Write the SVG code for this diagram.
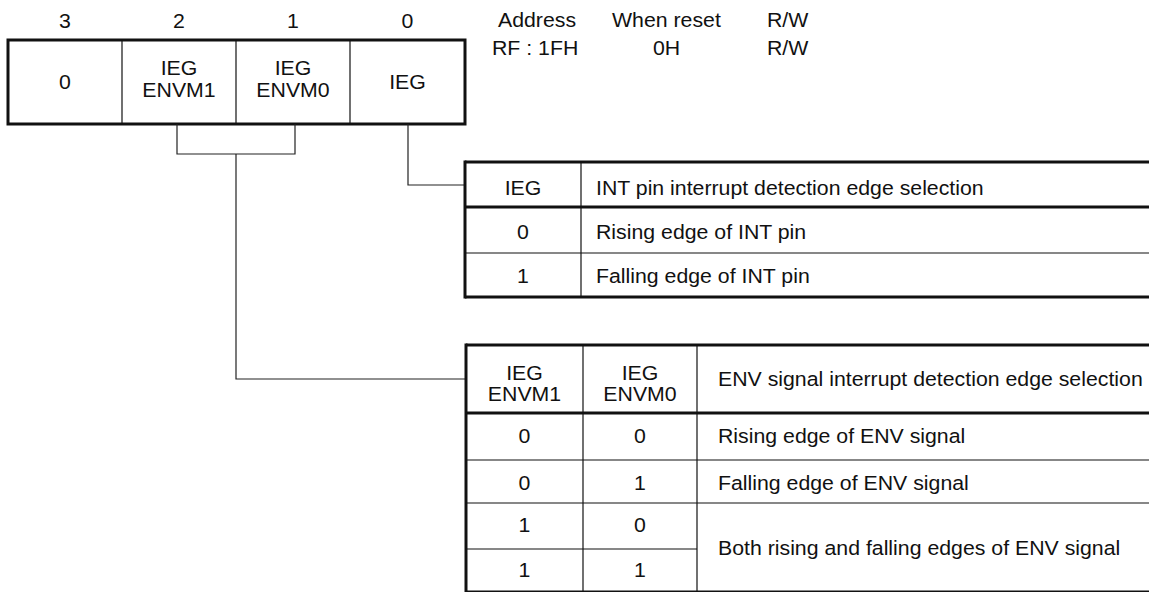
<svg xmlns="http://www.w3.org/2000/svg" width="1149" height="592" viewBox="0 0 1149 592">
<style>
  text { font-family: "Liberation Sans", Arial, sans-serif; font-size: 19.5px; fill: #111; }
  .c { text-anchor: middle; }
  .thick { stroke: #111; stroke-width: 3; fill: none; }
  .thin { stroke: #111; stroke-width: 1.2; fill: none; }
  .conn { stroke: #222; stroke-width: 1.2; fill: none; }
</style>
<rect width="1149" height="592" fill="#fff"/>

<g id="bit-numbers">
  <g transform="scale(1.092 1)">
    <text class="c" x="59.52" y="28">3</text>
    <text class="c" x="163.92" y="28">2</text>
    <text class="c" x="268.32" y="28">1</text>
    <text class="c" x="373.17" y="28">0</text>
  </g>
</g>

<g id="register-info">
  <g transform="scale(1.092 1)">
    <text x="456.04" y="27">Address</text>
    <text x="560.44" y="27">When reset</text>
    <text x="702.38" y="27">R/W</text>
    <text x="450.55" y="55">RF : 1FH</text>
    <text x="597.99" y="55">0H</text>
    <text x="702.38" y="55">R/W</text>
  </g>
</g>

<g id="register">
  <rect class="thick" x="8" y="40" width="457" height="84"/>
  <line class="thin" x1="122" y1="40" x2="122" y2="124"/>
  <line class="thin" x1="236" y1="40" x2="236" y2="124"/>
  <line class="thin" x1="350" y1="40" x2="350" y2="124"/>
  <g transform="scale(1.092 1)">
    <text class="c" x="59.52" y="89">0</text>
    <text class="c" x="163.92" y="75">IEG</text>
    <text class="c" x="163.92" y="97">ENVM1</text>
    <text class="c" x="268.32" y="75">IEG</text>
    <text class="c" x="268.32" y="97">ENVM0</text>
    <text class="c" x="373.17" y="89">IEG</text>
  </g>
</g>

<g id="connectors">
  <polyline class="conn" points="408,124 408,185 465,185"/>
  <polyline class="conn" points="177,124 177,154 295,154 295,124"/>
  <polyline class="conn" points="236,154 236,379 466,379"/>
</g>

<g id="table-ieg">
  <line class="thick" x1="465" y1="162" x2="1152" y2="162"/>
  <line class="thick" x1="465" y1="207" x2="1152" y2="207"/>
  <line class="thin" x1="465" y1="253" x2="1152" y2="253"/>
  <line class="thick" x1="465" y1="297" x2="1152" y2="297"/>
  <line class="thick" x1="465" y1="160.5" x2="465" y2="298.5"/>
  <line class="thin" x1="581" y1="162" x2="581" y2="297"/>
  <g transform="scale(1.092 1)">
    <text class="c" x="478.94" y="195">IEG</text>
    <text x="545.79" y="195">INT pin interrupt detection edge selection</text>
    <text class="c" x="478.94" y="239">0</text>
    <text x="545.79" y="239">Rising edge of INT pin</text>
    <text class="c" x="478.94" y="283">1</text>
    <text x="545.79" y="283">Falling edge of INT pin</text>
  </g>
</g>

<g id="table-envm">
  <line class="thick" x1="466" y1="345" x2="1152" y2="345"/>
  <line class="thick" x1="466" y1="413" x2="1152" y2="413"/>
  <line class="thin" x1="466" y1="460" x2="1152" y2="460"/>
  <line class="thin" x1="466" y1="503" x2="1152" y2="503"/>
  <line class="thin" x1="466" y1="549" x2="697" y2="549"/>
  <line class="thick" x1="466" y1="592" x2="1152" y2="592"/>
  <line class="thick" x1="466" y1="343.5" x2="466" y2="594"/>
  <line class="thin" x1="583" y1="345" x2="583" y2="592"/>
  <line class="thin" x1="697" y1="345" x2="697" y2="592"/>
  <g transform="scale(1.092 1)">
    <text class="c" x="480.31" y="380">IEG</text>
    <text class="c" x="480.31" y="401">ENVM1</text>
    <text class="c" x="586.08" y="380">IEG</text>
    <text class="c" x="586.08" y="401">ENVM0</text>
    <text x="657.51" y="386">ENV signal interrupt detection edge selection</text>
    <text class="c" x="480.31" y="443">0</text>
    <text class="c" x="586.08" y="443">0</text>
    <text x="657.51" y="443">Rising edge of ENV signal</text>
    <text class="c" x="480.31" y="490">0</text>
    <text class="c" x="586.08" y="490">1</text>
    <text x="657.51" y="490">Falling edge of ENV signal</text>
    <text class="c" x="480.31" y="532">1</text>
    <text class="c" x="586.08" y="532">0</text>
    <text class="c" x="480.31" y="577">1</text>
    <text class="c" x="586.08" y="577">1</text>
    <text x="657.51" y="555">Both rising and falling edges of ENV signal</text>
  </g>
</g>
</svg>
